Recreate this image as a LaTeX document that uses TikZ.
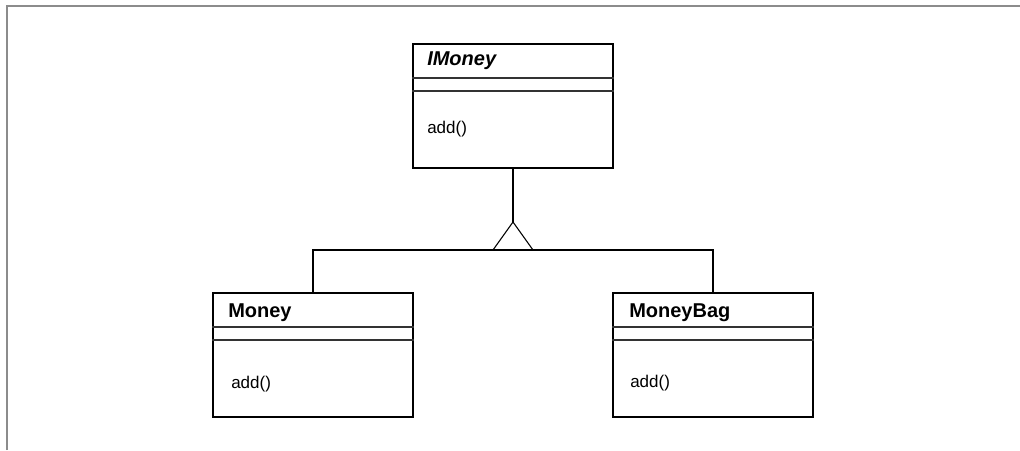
\documentclass[tikz,border=0pt]{standalone}
\usepackage{fontspec}
\setmainfont{Liberation Sans}
\begin{document}
\begin{tikzpicture}[x=0.75pt,y=-0.75pt,
  classbox/.style={draw=black, line width=1.5pt, minimum width=150pt, minimum height=93pt, inner sep=0pt},
  divider/.style={draw=black!80, line width=0.9pt},
  conn/.style={draw=black, line width=0.8pt},
  frameline/.style={draw=black!45, line width=1.5pt},
  cname/.style={anchor=base west, inner sep=0pt, font=\fontsize{15}{18}\selectfont\bfseries},
  cop/.style={anchor=base west, inner sep=0pt, font=\fontsize{12.75}{15}\selectfont}]
\useasboundingbox (0,0) rectangle (1020,450);
% frame
\draw[frameline] (7,450) -- (7,6) -- (1020,6);
% classes
\node[classbox] (IMoney) at (513,106) {};
\node[classbox] (Money) at (313,355) {};
\node[classbox] (MoneyBag) at (713,355) {};
% compartments
\foreach \c in {IMoney,Money,MoneyBag}{
  \draw[divider] ([yshift=-35*0.75pt]\c.north west) -- ([yshift=-35*0.75pt]\c.north east);
  \draw[divider] ([yshift=-48*0.75pt]\c.north west) -- ([yshift=-48*0.75pt]\c.north east);
}
% texts
\node[cname, font=\fontsize{15}{18}\selectfont\bfseries\itshape] (tIMoney) at (427,65) {IMoney};
\node[cop] (oIMoney) at (427,133) {add()};
\node[cname] (tMoney) at (228,317) {Money};
\node[cop] (oMoney) at (231,388) {add()};
\node[cname] (tMoneyBag) at (629,317) {MoneyBag};
\node[cop] (oMoneyBag) at (630,387) {add()};
% generalization
\coordinate (apex) at (513,222);
\coordinate (bl) at (493,250);
\coordinate (br) at (533,250);
\draw[conn] (IMoney.south) -- (apex);
\draw[conn] (apex) -- (bl) -- (br) -- cycle;
\draw[conn] (Money.north) -- (Money.north |- bl) -- (MoneyBag.north |- bl) -- (MoneyBag.north);
\end{tikzpicture}
\end{document}
